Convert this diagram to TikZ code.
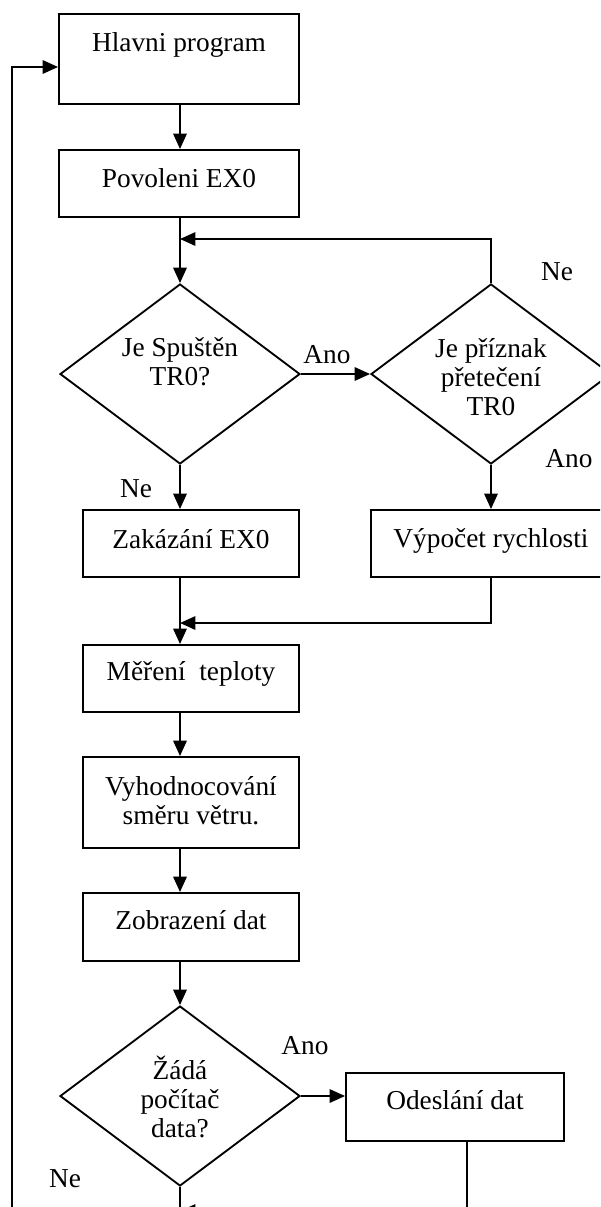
\documentclass[tikz,border=0pt]{standalone}
\usepackage{fontspec}
\setmainfont{Liberation Serif}
\usetikzlibrary{shapes.geometric,arrows.meta}
\begin{document}
\begin{tikzpicture}[x=0.75pt,y=-0.75pt,
  every node/.style={font=\fontsize{20.5}{22}\selectfont},
  flowbox/.style={draw, line width=1.4pt, rectangle, inner sep=0pt},
  decision/.style={draw, line width=1.4pt, diamond, inner sep=0pt,
                   minimum width=180pt, minimum height=135pt},
  caption/.style={align=center, inner sep=0pt},
  flow/.style={line width=1.4pt, -{Triangle[length=11.5pt,width=10pt]}},
  link/.style={line width=1.4pt}]
\useasboundingbox (0,0) rectangle (600,1207);
\clip (0,0) rectangle (600,1207);

% process boxes and decisions
\node[flowbox, minimum width=180pt, minimum height=67.5pt] (main) at (179,59) {};
\node[caption] (mainT) at (179,45) {Hlavni program};
\node[flowbox, minimum width=180pt, minimum height=50.25pt] (ex0on) at (179,183.5) {};
\node[caption] (ex0onT) at (179,178) {Povoleni EX0};

\node[decision] (d1) at (180,374) {};
\node[caption] (d1T) at (180,362) {Je Spuštěn\\TR0?};
\node[decision] (d2) at (491,374) {};
\node[caption] (d2T) at (491,377) {Je příznak\\přetečení\\TR0};

\node[flowbox, minimum width=162pt, minimum height=50.25pt] (zak) at (191,543.5) {};
\node[caption] (zakT) at (191,539) {Zakázání EX0};
\node[flowbox, minimum width=180pt, minimum height=50.25pt] (vyp) at (491,543.5) {};
\node[caption] (vypT) at (491,541) {Výpočet rychlosti};

\node[flowbox, minimum width=162pt, minimum height=50.25pt] (mer) at (191,678.5) {};
\node[caption] (merT) at (191,674) {Měření\ \ teploty};
\node[flowbox, minimum width=162pt, minimum height=68.25pt] (vyh) at (191,802.5) {};
\node[caption] (vyhT) at (191,801) {Vyhodnocování\\směru větru.};
\node[flowbox, minimum width=162pt, minimum height=51pt] (zob) at (191,927) {};
\node[caption] (zobT) at (191,920) {Zobrazení dat};

\node[decision] (d3) at (180,1096) {};
\node[caption] (d3T) at (180,1097) {Žádá\\počítač\\data?};
\node[flowbox, minimum width=163.5pt, minimum height=51pt] (ode) at (455,1107) {};
\node[caption] (odeT) at (455,1100) {Odeslání dat};

% branch labels
\node[caption] (lYes1) at (327,355) {Ano};
\node[caption] (lNo2) at (557,272) {Ne};
\node[caption] (lYes2) at (569,459) {Ano};
\node[caption] (lNo1) at (136,489) {Ne};
\node[caption] (lYes3) at (305,1046) {Ano};
\node[caption] (lNo3) at (65,1179) {Ne};

% junction points
\coordinate (j1) at (180,239);
\coordinate (j2) at (180,623);
\coordinate (j3) at (180,1211);
\coordinate (j4) at (467,1211);
\coordinate (loopin) at (12,67);
\coordinate (loopbot) at (12,1230);

% connectors
\draw[flow] (main.south -| j1) -- (ex0on.north -| j1);
\draw[flow] (ex0on.south -| j1) -- (d1.north);
\draw[flow] (d2.north) -- (d2.north |- j1) -- (j1);
\draw[flow] (d1.east) -- (d2.west);
\draw[flow] (d1.south) -- (d1.south |- zak.north);
\draw[flow] (d2.south) -- (vyp.north);
\draw[flow] (zak.south -| j1) -- (mer.north -| j1);
\draw[flow] (vyp.south) -- (vyp.south |- j2) -- (j2);
\draw[flow] (mer.south -| j1) -- (vyh.north -| j1);
\draw[flow] (vyh.south -| j1) -- (zob.north -| j1);
\draw[flow] (zob.south -| j1) -- (d3.north);
\draw[flow] (d3.east) -- (d3.east -| ode.west);
\draw[flow] (ode.south -| j4) -- (j4) -- (j3);
\draw[link] (d3.south) -- (j3);
\draw[flow] (loopbot) -- (loopin) -- (loopin -| main.west);
\end{tikzpicture}
\end{document}
